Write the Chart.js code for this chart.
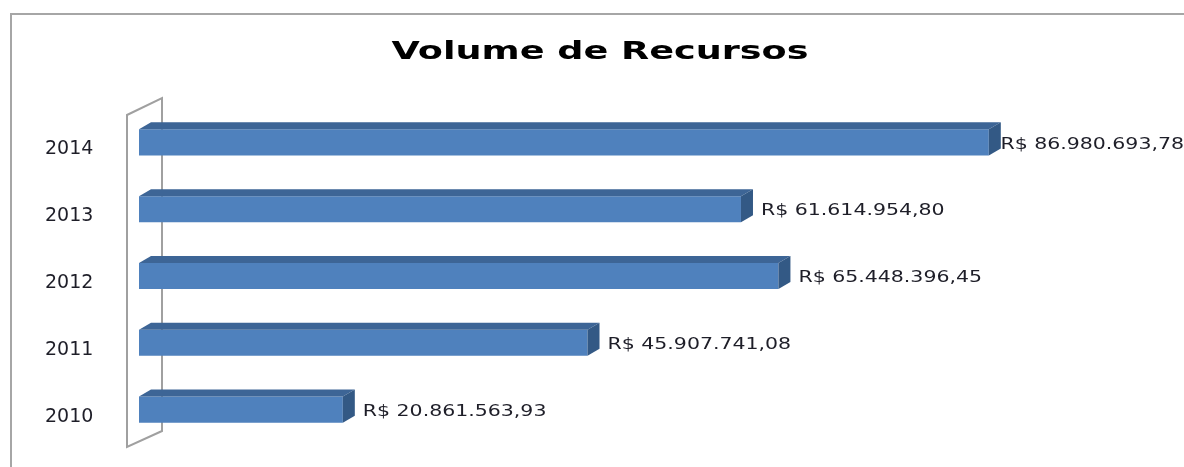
<!DOCTYPE html>
<html>
<head>
<meta charset="utf-8">
<script src="https://cdn.jsdelivr.net/npm/chart.js@4.4.1/dist/chart.umd.min.js"></script>
<style>
  html, body { margin: 0; padding: 0; background: #fff; overflow: hidden; }
  canvas { display: block; }
</style>
</head>
<body>
<canvas id="chart" width="1184" height="467"></canvas>
<script>
// chart data
const years = ['2010', '2011', '2012', '2013', '2014'];
const volumes = [20861563.93, 45907741.08, 65448396.45, 61614954.80, 86980693.78];
const chartTitle = 'Volume de Recursos';

function formatBRL(v) {
  const parts = v.toFixed(2).split('.');
  const int = parts[0].replace(/\B(?=(\d{3})+(?!\d))/g, '.');
  return 'R$ ' + int + ',' + parts[1];
}

// grey chart frame
const framePlugin = {
  id: 'frame',
  beforeDraw(chart) {
    const ctx = chart.ctx;
    ctx.save();
    ctx.strokeStyle = '#a6a6a6';
    ctx.lineWidth = 2;
    ctx.strokeRect(11, 14, chart.width + 20, chart.height + 20);
    ctx.restore();
  }
};

// title, stretched a little like the original
const titlePlugin = {
  id: 'stretchTitle',
  afterDraw(chart) {
    const ctx = chart.ctx;
    ctx.save();
    ctx.font = 'bold 25px "DejaVu Sans"';
    ctx.fillStyle = '#000';
    ctx.textAlign = 'center';
    ctx.textBaseline = 'alphabetic';
    const w = ctx.measureText(chartTitle).width;
    ctx.translate(600, 59);
    ctx.scale(417 / w, 1);
    ctx.fillText(chartTitle, 0, 0);
    ctx.restore();
  }
};

// side wall of the 3d plot
const wallPlugin = {
  id: 'wall',
  beforeDatasetsDraw(chart) {
    const { ctx, chartArea: a } = chart;
    ctx.save();
    ctx.strokeStyle = '#a0a0a0';
    ctx.lineWidth = 2;
    ctx.beginPath();
    ctx.moveTo(a.left - 12, a.bottom + 4);
    ctx.lineTo(a.left - 12, a.top + 6);
    ctx.lineTo(a.left + 23, a.top - 11);
    ctx.lineTo(a.left + 23, a.bottom - 12);
    ctx.closePath();
    ctx.stroke();
    ctx.restore();
  }
};

// top and side faces + value labels
const bar3dPlugin = {
  id: 'bar3d',
  afterDatasetsDraw(chart) {
    const ctx = chart.ctx;
    const dx = 12, dy = 7;
    const meta = chart.getDatasetMeta(0);
    ctx.save();
    meta.data.forEach(bar => {
      const x0 = bar.base, x1 = bar.x;
      const top = bar.y - bar.height / 2, bottom = bar.y + bar.height / 2;
      ctx.fillStyle = '#3d6596';
      ctx.beginPath();
      ctx.moveTo(x0, top);
      ctx.lineTo(x0 + dx, top - dy);
      ctx.lineTo(x1 + dx, top - dy);
      ctx.lineTo(x1, top);
      ctx.closePath();
      ctx.fill();
      ctx.fillStyle = '#335985';
      ctx.beginPath();
      ctx.moveTo(x1, top);
      ctx.lineTo(x1 + dx, top - dy);
      ctx.lineTo(x1 + dx, bottom - dy);
      ctx.lineTo(x1, bottom);
      ctx.closePath();
      ctx.fill();
    });
    const sx = 1.28;
    ctx.font = '16px "DejaVu Sans"';
    ctx.fillStyle = '#1e1e28';
    ctx.textBaseline = 'middle';
    ctx.textAlign = 'left';
    meta.data.forEach((bar, i) => {
      const txt = formatBRL(volumes[i]);
      const w = ctx.measureText(txt).width * sx;
      const x = Math.min(bar.x + 20, chart.width - w);
      ctx.save();
      ctx.translate(x, bar.y + 2);
      ctx.scale(sx, 1);
      ctx.fillText(txt, 0, 0);
      ctx.restore();
    });
    ctx.restore();
  }
};

const ctx = document.getElementById('chart').getContext('2d');
new Chart(ctx, {
  type: 'bar',
  data: {
    labels: years,
    datasets: [{
      data: volumes,
      backgroundColor: '#4f81bd',
      borderWidth: 0,
      barPercentage: 0.39,
      categoryPercentage: 1
    }]
  },
  options: {
    indexAxis: 'y',
    responsive: false,
    animation: false,
    layout: { padding: { top: 109, bottom: 24, left: 45, right: 68 } },
    plugins: {
      legend: { display: false },
      title: { display: false },
      tooltip: { enabled: false }
    },
    scales: {
      x: {
        display: false,
        min: 0,
        max: 100000000
      },
      y: {
        reverse: true,
        grid: { display: false, drawTicks: false },
        border: { display: false },
        afterFit(scale) { scale.width = 94; },
        ticks: {
          padding: 0,
          crossAlign: 'far',
          labelOffset: 7,
          color: '#1e1e28',
          font: { family: 'DejaVu Sans', size: 19 }
        }
      }
    }
  },
  plugins: [framePlugin, wallPlugin, bar3dPlugin, titlePlugin]
});
</script>
</body>
</html>
